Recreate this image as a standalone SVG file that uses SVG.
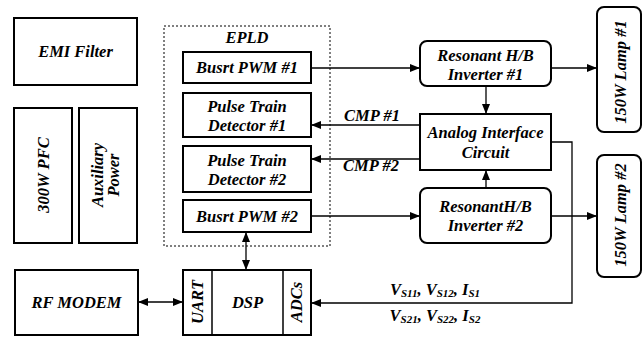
<svg xmlns="http://www.w3.org/2000/svg" width="644" height="338" viewBox="0 0 644 338">
<style>
.b{fill:#fff;stroke:#000;stroke-width:2}
.t{font-family:'Liberation Serif','DejaVu Serif',serif;font-weight:700;font-style:italic;font-size:16.5px;text-anchor:middle;fill:#000}
.l{fill:none;stroke:#000;stroke-width:1.3}
.s{font-size:11px}
</style>
<defs>
<marker id="a" viewBox="0 0 10 8" refX="10" refY="4" markerWidth="10" markerHeight="8" markerUnits="userSpaceOnUse" orient="auto-start-reverse">
<path d="M0,0 L10,4 L0,8 Z" fill="#000"/>
</marker>
</defs>
<rect width="644" height="338" fill="#fff"/>
<g id="connectors">
<rect x="164" y="26" width="166" height="220" fill="none" stroke="#000" stroke-width="1" stroke-dasharray="2,2"/>
<path class="l" d="M311,68 H420" marker-end="url(#a)"/>
<path class="l" d="M551,68 H597" marker-end="url(#a)"/>
<path class="l" d="M486,86 V114" marker-end="url(#a)"/>
<path class="l" d="M420,125 H311" marker-end="url(#a)"/>
<path class="l" d="M420,159 H311" marker-end="url(#a)"/>
<path class="l" d="M486,188 V170" marker-end="url(#a)"/>
<path class="l" d="M311,216 H420" marker-end="url(#a)"/>
<path class="l" d="M551,216 H597" marker-end="url(#a)"/>
<path class="l" d="M551,142 H572 V303 H311" marker-end="url(#a)"/>
<path class="l" d="M246,232 V270" marker-start="url(#a)" marker-end="url(#a)"/>
<path class="l" d="M138,302 H183" marker-start="url(#a)" marker-end="url(#a)"/>
<text class="t" x="372" y="121">CMP #1</text>
<text class="t" x="371" y="171">CMP #2</text>
<text class="t" x="435" y="295">V<tspan class="s" dy="2">S11</tspan><tspan dy="-2">, V</tspan><tspan class="s" dy="2">S12</tspan><tspan dy="-2">, I</tspan><tspan class="s" dy="2">S1</tspan></text>
<text class="t" x="435" y="321">V<tspan class="s" dy="2">S21</tspan><tspan dy="-2">, V</tspan><tspan class="s" dy="2">S22</tspan><tspan dy="-2">, I</tspan><tspan class="s" dy="2">S2</tspan></text>
</g>
<g id="emi"><rect class="b" x="14" y="18" width="123" height="67"/><text class="t" x="75.5" y="57">EMI Filter</text></g>
<g id="pfc"><rect class="b" x="14" y="108" width="58" height="135"/><text class="t" transform="translate(49,175) rotate(-90)">300W PFC</text></g>
<g id="aux"><rect class="b" x="79" y="108" width="58" height="135"/><text class="t" transform="translate(103,175) rotate(-90)">Auxiliary</text><text class="t" transform="translate(119,175) rotate(-90)">Power</text></g>
<g id="epld"><text class="t" x="247" y="43">EPLD</text></g>
<g id="pwm1"><rect class="b" x="183" y="52" width="128" height="31"/><text class="t" x="247" y="73">Busrt PWM #1</text></g>
<g id="ptd1"><rect class="b" x="183" y="93" width="128" height="44"/><text class="t" x="247" y="112">Pulse Train</text><text class="t" x="247" y="131">Detector #1</text></g>
<g id="ptd2"><rect class="b" x="183" y="146" width="128" height="46"/><text class="t" x="247" y="166">Pulse Train</text><text class="t" x="247" y="185">Detector #2</text></g>
<g id="pwm2"><rect class="b" x="183" y="200" width="128" height="32"/><text class="t" x="247" y="222">Busrt PWM #2</text></g>
<g id="rf"><rect class="b" x="15" y="270" width="123" height="65"/><text class="t" x="76.5" y="308">RF MODEM</text></g>
<g id="dsp"><rect class="b" x="183" y="270" width="128" height="65"/><line x1="212" y1="270" x2="212" y2="335" stroke="#000" stroke-width="1.5"/><line x1="283" y1="270" x2="283" y2="335" stroke="#000" stroke-width="1.5"/><text class="t" x="247.5" y="308">DSP</text><text class="t" transform="translate(203,302) rotate(-90)">UART</text><text class="t" transform="translate(302,302) rotate(-90)">ADCs</text></g>
<g id="inv1"><rect class="b" x="420" y="41" width="131" height="45" rx="7"/><text class="t" x="485.5" y="61">Resonant H/B</text><text class="t" x="485.5" y="80">Inverter #1</text></g>
<g id="aic"><rect class="b" x="420" y="114" width="131" height="56"/><text class="t" x="485.5" y="138">Analog Interface</text><text class="t" x="485.5" y="158">Circuit</text></g>
<g id="inv2"><rect class="b" x="420" y="188" width="131" height="55" rx="7"/><text class="t" x="485.5" y="212">ResonantH/B</text><text class="t" x="485.5" y="231">Inverter #2</text></g>
<g id="lamp1"><rect class="b" x="597" y="7" width="44" height="125" rx="7"/><text class="t" transform="translate(626,72) rotate(-90)">150W Lamp #1</text></g>
<g id="lamp2"><rect class="b" x="597" y="155" width="44" height="122" rx="7"/><text class="t" transform="translate(626,215) rotate(-90)">150W Lamp #2</text></g>
</svg>
